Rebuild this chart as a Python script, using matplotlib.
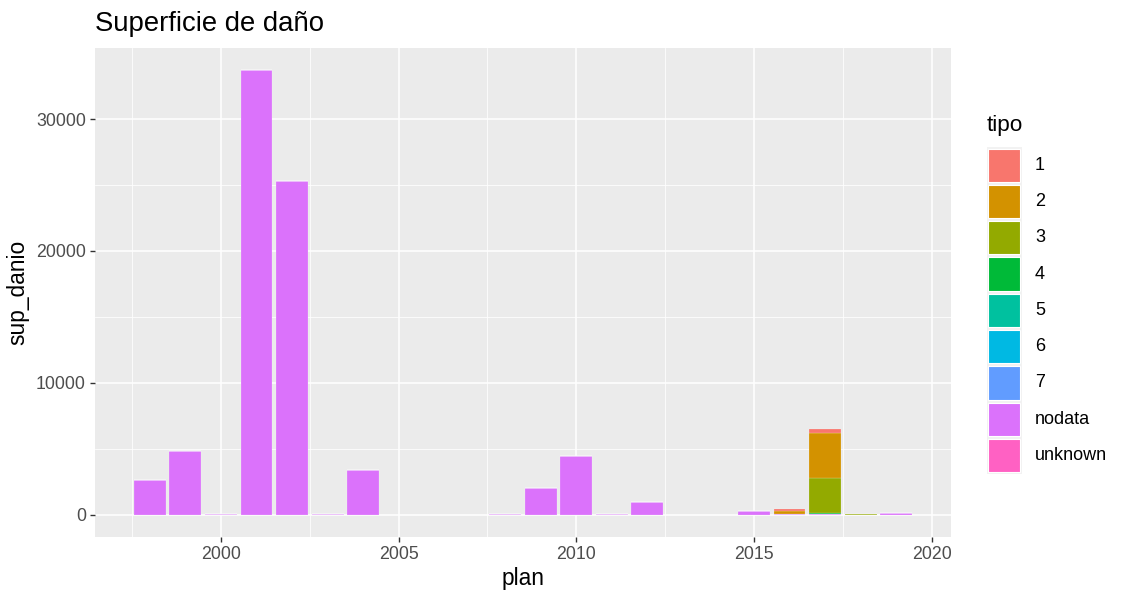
import matplotlib
matplotlib.use("Agg")
import matplotlib.pyplot as plt
from matplotlib.patches import Rectangle
import numpy as np

plt.rcParams["font.family"] = ["Liberation Sans", "DejaVu Sans"]

# Damaged surface per plan year, split by damage type
tipos = ["1", "2", "3", "4", "5", "6", "7", "nodata", "unknown"]
colores = ["#F8766D", "#D39200", "#93AA00", "#00BA38", "#00C19F",
           "#00B9E3", "#619CFF", "#DB72FB", "#FF61C3"]

planes = [1998, 1999, 2000, 2001, 2002, 2003, 2004, 2008, 2009, 2010,
          2011, 2012, 2015, 2016, 2017, 2018, 2019]

sup_tipo_1 = [0, 0, 0, 0, 0, 0, 0, 0, 0, 0, 0, 0, 0, 100, 350, 0, 40]
sup_tipo_2 = [0, 0, 0, 0, 0, 0, 0, 0, 0, 0, 0, 0, 0, 250, 3430, 0, 0]
sup_tipo_3 = [0, 0, 0, 0, 0, 0, 0, 0, 0, 0, 0, 0, 0, 0, 2600, 80, 0]
sup_tipo_4 = [0, 0, 0, 0, 0, 0, 0, 0, 0, 0, 0, 0, 0, 0, 80, 0, 0]
sup_tipo_5 = [0] * 17
sup_tipo_6 = [0] * 17
sup_tipo_7 = [0] * 17
sup_nodata = [2600, 4850, 80, 33700, 25300, 80, 3400, 80, 2050, 4470,
              80, 1000, 250, 60, 80, 0, 100]
sup_unknown = [0] * 17

series = [sup_tipo_1, sup_tipo_2, sup_tipo_3, sup_tipo_4, sup_tipo_5,
          sup_tipo_6, sup_tipo_7, sup_nodata, sup_unknown]

fig = plt.figure(figsize=(11.21, 5.93), dpi=100)
W, H = 1121, 593
ax = fig.add_axes([95 / W, (H - 537) / H, (951 - 95) / W, (537 - 48) / H])
ax.set_facecolor("#EBEBEB")

x = np.array(planes, dtype=float)
bottom = np.zeros(len(planes))
# ggplot stacks the first level on top, so draw from the last level upwards
for vals, col in reversed(list(zip(series, colores))):
    v = np.array(vals, dtype=float)
    ax.bar(x, v, width=0.9, bottom=bottom, color=col,
           edgecolor=(1, 1, 1, 0.45), linewidth=0.3, zorder=3)
    bottom += v

ax.set_xlim(1996.455, 2020.545)
ax.set_ylim(-1685, 35385)
ax.set_xticks([2000, 2005, 2010, 2015, 2020])
ax.set_xticks([1997.5, 2002.5, 2007.5, 2012.5, 2017.5], minor=True)
ax.set_yticks([0, 10000, 20000, 30000])
ax.set_yticks([5000, 15000, 25000], minor=True)
ax.grid(which="major", color="white", linewidth=1.1, zorder=0)
ax.grid(which="minor", color="white", linewidth=0.55, zorder=0)
ax.set_axisbelow(True)
for s in ax.spines.values():
    s.set_visible(False)
ax.tick_params(which="major", length=3.5, color="#333333", width=1,
               labelsize=12.8, labelcolor="#4D4D4D", pad=3)
ax.tick_params(which="minor", length=0)

ax.set_xlabel("plan", fontsize=16.4, color="black", labelpad=3)
ax.set_ylabel("sup_danio", fontsize=16.4, color="black", labelpad=5)
fig.text(95 / W, 1 - 24 / H, "Superficie de daño", fontsize=19.8,
         ha="left", va="center")

# Legend drawn in figure pixels
fig.text(987 / W, 1 - 126 / H, "tipo", fontsize=16.2, ha="left", va="center")
key_top = 147
key_h = 36.3
for i, (t, col) in enumerate(zip(tipos, colores)):
    y0 = key_top + i * key_h
    fig.patches.append(Rectangle((987 / W, 1 - (y0 + key_h) / H),
                                 35 / W, key_h / H, transform=fig.transFigure,
                                 facecolor="#F2F2F2", edgecolor="none"))
    fig.patches.append(Rectangle((988.5 / W, 1 - (y0 + key_h - 1.5) / H),
                                 32 / W, (key_h - 3) / H,
                                 transform=fig.transFigure,
                                 facecolor=col, edgecolor="white",
                                 linewidth=0.8))
    fig.text(1035 / W, 1 - (y0 + key_h / 2) / H, t, fontsize=13,
             ha="left", va="center")

fig.savefig("out.png", dpi=100)
